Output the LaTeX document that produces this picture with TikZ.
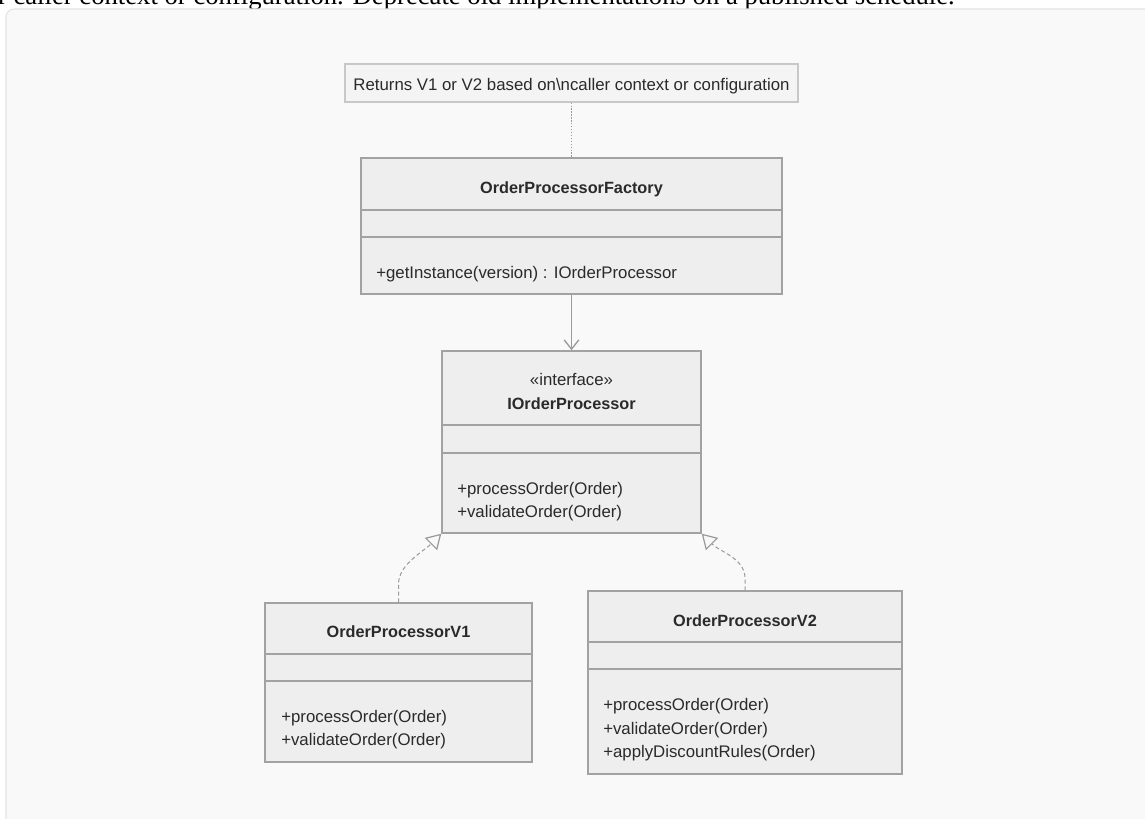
\documentclass[tikz,border=0pt]{standalone}
\usepackage{fontspec}
\setmainfont{Liberation Sans}
\newfontfamily\captionfont{Liberation Serif}
\usepackage{xcolor}
\usepackage{tikz}
\usetikzlibrary{calc}
\usetikzlibrary{positioning}
\usetikzlibrary{fit}
\usetikzlibrary{arrows.meta}
\definecolor{panelfill}{HTML}{F9F9F9}
\definecolor{panelline}{HTML}{E3E3E3}
\definecolor{boxfill}{HTML}{EEEEEE}
\definecolor{boxline}{HTML}{A2A2A2}
\definecolor{notefill}{HTML}{F4F4F4}
\definecolor{noteline}{HTML}{C8C8C8}
\definecolor{textcol}{HTML}{2A2A2A}
\definecolor{linkcol}{HTML}{9A9A9A}
\tikzset{
	classbox/.style={
		draw=boxline, fill=boxfill, line width=1.1pt, inner sep=0pt,
	},
	notebox/.style={
		draw=noteline, fill=notefill, line width=0.9pt, inner sep=0pt,
	},
	divider/.style={draw=boxline, line width=1.1pt},
	classtitle/.style={
		anchor=base, inner sep=0pt, text=textcol,
		font=\fontsize{12.2}{14}\selectfont\bfseries,
	},
	stereo/.style={
		anchor=base, inner sep=0pt, text=textcol,
		font=\fontsize{12.6}{14}\selectfont,
	},
	member/.style={
		anchor=base west, inner sep=0pt, text=textcol,
		font=\fontsize{12.6}{14}\selectfont,
	},
	uses/.style={
		draw=linkcol, line width=0.9pt,
		-{Straight Barb[length=7pt,width=11pt,line width=1pt]},
	},
	realizes/.style={
		draw=linkcol, line width=0.75pt, dash pattern=on 3pt off 2pt,
		-{Triangle[open,length=11pt,width=13pt,fill=panelfill,line width=0.9pt]},
	},
	noteline/.style={
		draw=linkcol, line width=0.8pt, dash pattern=on 1pt off 1.2pt,
	},
}

\begin{document}
\begin{tikzpicture}[x=0.75pt,y=-0.75pt]
			\useasboundingbox (0,0) rectangle (1145,818);
			\clip (0,0) rectangle (1145,818);
			\fill[white] (0,0) rectangle (1145,818);
			
			% Caption cut off at the top
			\node[anchor=base east, inner sep=0pt, font=\captionfont\fontsize{20}{22}\selectfont] (caption) at (955,4)
				{for caller context or configuration. Deprecate old implementations on a published schedule.};
			
			% Panel
			\draw[fill=panelfill, draw=panelline, line width=0.8pt, rounded corners=6pt] (6,9) rectangle (1170,840);
			
			% Note
			\node[notebox, fit={(345,64) (798,102)}] (note) {};
			\node[stereo] (note-text) at (571.5,90.5) {Returns V1 or V2 based on\textbackslash ncaller context or configuration};
			
			% Factory
			\node[classbox, fit={(361,158) (782,294)}] (factory) {};
			\draw[divider] (361,210) -- (782,210);
			\draw[divider] (361,237) -- (782,237);
			\node[classtitle] (factory-name) at (571.5,193.5) {OrderProcessorFactory};
			\node[member] (factory-op1) at (376,278) {+getInstance(version) : IOrderProcessor};
			
			% Interface
			\node[classbox, fit={(442,351) (701,533)}] (iproc) {};
			\draw[divider] (442,425) -- (701,425);
			\draw[divider] (442,453) -- (701,453);
			\node[stereo] (iproc-stereo) at (571.5,385.7) {«interface»};
			\node[classtitle] (iproc-name) at (571.5,409) {IOrderProcessor};
			\node[member] (iproc-op1) at (457,494) {+processOrder(Order)};
			\node[member] (iproc-op2) at (457,517) {+validateOrder(Order)};
			
			% V1
			\node[classbox, fit={(265,603) (532,762)}] (procA) {};
			\draw[divider] (265,654) -- (532,654);
			\draw[divider] (265,681) -- (532,681);
			\node[classtitle] (procA-name) at (398.5,637) {OrderProcessorV1};
			\node[member] (procA-op1) at (281,722) {+processOrder(Order)};
			\node[member] (procA-op2) at (281,745) {+validateOrder(Order)};
			
			% V2
			\node[classbox, fit={(588,591) (902,774)}] (procB) {};
			\draw[divider] (588,642) -- (902,642);
			\draw[divider] (588,669) -- (902,669);
			\node[classtitle] (procB-name) at (745,626) {OrderProcessorV2};
			\node[member] (procB-op1) at (603,710.5) {+processOrder(Order)};
			\node[member] (procB-op2) at (603,734) {+validateOrder(Order)};
			\node[member] (procB-op3) at (603,757.3) {+applyDiscountRules(Order)};
			
			% Draw links
			\draw[noteline] (note.south) -- (factory.north);
			\draw[uses] (factory.south) -- (iproc.north);
			\draw[realizes] (procA.north) -- ++(0,-18) .. controls +(0,-20) and +(-18,18) .. (iproc.south west);
			\draw[realizes] (procB.north) -- ++(0,-12) .. controls +(0,-20) and +(18,18) .. (iproc.south east);
		\end{tikzpicture}
\end{document}
